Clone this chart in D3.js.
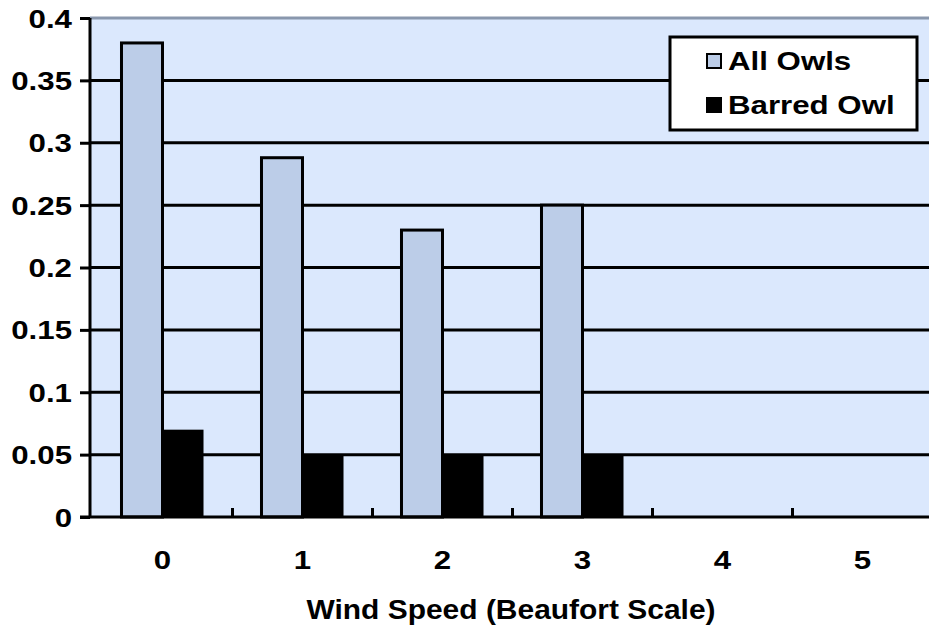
<!DOCTYPE html>
<html><head><meta charset="utf-8">
<script src="https://cdn.jsdelivr.net/npm/d3@7"></script>
<style>body{margin:0;background:#fff}svg{display:block}text{font-family:"Liberation Sans",Arial,sans-serif;font-weight:bold;fill:#000}</style>
</head><body><svg id="c" width="929" height="628"></svg>
<script>
const categories = ["0","1","2","3","4","5"];
const seriesNames = ["All Owls","Barred Owl"];
const allOwls = [0.38, 0.288, 0.23, 0.25, 0, 0];
const barredOwl = [0.07, 0.05, 0.05, 0.05, 0, 0];
const yTicks = [0,0.05,0.1,0.15,0.2,0.25,0.3,0.35,0.4];
const yTickLabels = ["0","0.05","0.1","0.15","0.2","0.25","0.3","0.35","0.4"];
const colors = {"All Owls":"#bccde8","Barred Owl":"#000000"};
const FS = 25, SX_T = 1.25, SX_TITLE = 1.07, SX_LEG = 1.25;

const svg = d3.select("#c");
const L = 90, R = 929, T = 18, B = 517;
const y = d3.scaleLinear().domain([0,0.4]).range([B,T]);
const x0 = d3.scaleBand().domain(categories).range([92.5,932.5]).paddingInner(0).paddingOuter(0);
const x1 = d3.scaleBand().domain(seriesNames).range([0,x0.bandwidth()]).paddingInner(0).paddingOuter(0.707);

svg.append("rect").attr("x",L).attr("y",T).attr("width",R-L+5).attr("height",B-T).attr("fill","#dbe8fd");

// gridlines
svg.append("g").selectAll("line").data(yTicks.filter(v=>v>0)).join("line")
  .attr("x1",L).attr("x2",R+5).attr("y1",d=>y(d)).attr("y2",d=>y(d))
  .attr("stroke",d=>d===0.4?"#8997ad":"#000").attr("stroke-width",3);

// bars
const data = categories.map((c,i)=>({c, vals:[{s:"All Owls",v:allOwls[i]},{s:"Barred Owl",v:barredOwl[i]}]}));
const g = svg.append("g").selectAll("g").data(data).join("g").attr("transform",d=>`translate(${x0(d.c)},0)`);
g.selectAll("rect").data(d=>d.vals.filter(e=>e.v>0)).join("rect")
  .attr("x",d=>x1(d.s)).attr("width",x1.bandwidth())
  .attr("y",d=>y(d.v)).attr("height",d=>y(0)-y(d.v))
  .attr("fill",d=>colors[d.s])
  .attr("stroke",d=>d.s==="All Owls"?"#000":"none").attr("stroke-width",3);

// y axis
const yAxis = d3.axisLeft(y).tickValues(yTicks).tickFormat((d,i)=>yTickLabels[i]).tickSize(10).tickPadding(8);
const ya = svg.append("g").attr("transform",`translate(${L},0)`).call(yAxis);
ya.select(".domain").attr("stroke","#000").attr("stroke-width",3).attr("d",`M0,${T}V${B}`);
ya.selectAll(".tick line").attr("stroke","#000").attr("stroke-width",3);
ya.selectAll(".tick text").attr("font-size",FS).attr("font-family","Liberation Sans, Arial, sans-serif").attr("font-weight","bold")
  .attr("x",-18/SX_T).attr("dy","0.36em").attr("transform",`scale(${SX_T},1)`);

// x axis
const xAxis = d3.axisBottom(x0).tickSize(0).tickPadding(0);
const xa = svg.append("g").attr("transform",`translate(0,${B})`).call(xAxis);
xa.select(".domain").remove();
xa.selectAll(".tick text").attr("font-size",FS).attr("font-family","Liberation Sans, Arial, sans-serif").attr("font-weight","bold")
  .attr("y",0).attr("dy",null).attr("x",0).attr("transform",`translate(0,52) scale(${SX_T},1)`);
svg.append("line").attr("x1",80).attr("x2",R+5).attr("y1",B).attr("y2",B).attr("stroke","#000").attr("stroke-width",3);
svg.append("g").selectAll("line").data(categories.slice(1)).join("line")
  .attr("x1",d=>x0(d)).attr("x2",d=>x0(d)).attr("y1",B).attr("y2",B-9).attr("stroke","#000").attr("stroke-width",3);

// title
svg.append("text").attr("transform",`translate(511,619) scale(${SX_TITLE},1)`).attr("text-anchor","middle").attr("font-size",28).text("Wind Speed (Beaufort Scale)");

// legend
const lg = svg.append("g");
lg.append("rect").attr("x",670).attr("y",37).attr("width",247).attr("height",93).attr("fill","#fff").attr("stroke","#000").attr("stroke-width",3);
const items = lg.selectAll("g").data(seriesNames).join("g").attr("transform",(d,i)=>`translate(706,${53+i*44})`);
items.append("rect").attr("x",1).attr("y",1).attr("width",14).attr("height",14).attr("fill",d=>colors[d]).attr("stroke","#000").attr("stroke-width",2);
items.append("text").attr("transform",`translate(22,17) scale(${SX_LEG},1)`).attr("font-size",FS).text(d=>d);
</script></body></html>
